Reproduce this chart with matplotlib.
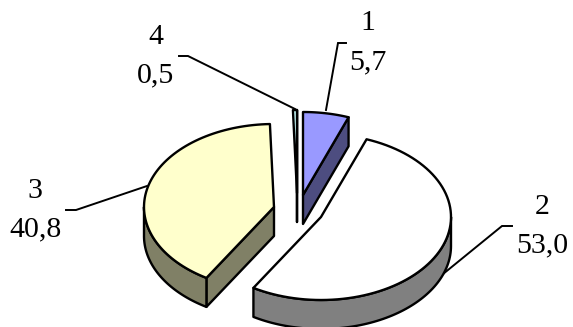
import numpy as np
import matplotlib
matplotlib.use('Agg')
import matplotlib.pyplot as plt
from matplotlib.patches import Polygon

labels = ['1', '2', '3', '4']
values = [5.7, 53.0, 40.8, 0.5]
top_colors = ['#9999FF', '#FFFFFF', '#FFFFCC', '#CCFFFF']
side_colors = ['#4D4D80', '#808080', '#808066', '#668080']
# apex of each exploded slice, in image pixels
apex_x = [303, 321, 274, 297]
apex_y = [195, 217, 207, 193]

# label text centre and leader line, in image pixels
text_x = [368, 542, 35, 156]
text_y = [43, 226, 210, 56]
leader_x = [[326, 338, 346], [432, 502, 512], [147, 76, 66], [295, 188, 179]]
leader_y = [[110, 43, 43], [283, 226, 226], [186, 210, 210], [109, 56, 56]]

rx = 130
ry = 83
depth = 29
lw = 1.7

fig = plt.figure(figsize=(5.73, 3.27), dpi=100)
ax = fig.add_axes([0, 0, 1, 1])
ax.set_xlim(0, 573)
ax.set_ylim(327, 0)
ax.axis('off')


def rim(i, a0, a1):
    t = np.radians(np.linspace(a0, a1, 80))
    return apex_x[i] + rx*np.sin(t), apex_y[i] - ry*np.cos(t)


def shape(xs, ys, color, z):
    ax.add_patch(Polygon(np.column_stack([xs, ys]), closed=True, facecolor=color,
                         edgecolor='black', lw=lw, joinstyle='round', zorder=z))


total = sum(values)
edges = np.concatenate([[0], np.cumsum(values)])/total*360

for i in [3, 0, 2, 1]:
    z = {3: 2, 0: 3, 2: 4, 1: 5}[i]
    a0, a1 = edges[i], edges[i+1]
    x0, y0 = apex_x[i], apex_y[i]
    # wall of the cut edge that faces the viewer
    if i == 2:
        ex, ey = rim(i, a0, a0)
    else:
        ex, ey = rim(i, a1, a1)
    if i != 1:
        shape([x0, ex[0], ex[0], x0], [y0, ey[0], ey[0]+depth, y0+depth], side_colors[i], z)
    # outer wall, lower half of the ellipse only
    b0, b1 = max(a0, 90), min(a1, 270)
    if b1 > b0:
        wx, wy = rim(i, b0, b1)
        shape(np.r_[wx, wx[::-1]], np.r_[wy, wy[::-1]+depth], side_colors[i], z)
    # top face
    tx, ty = rim(i, a0, a1)
    shape(np.r_[x0, tx], np.r_[y0, ty], top_colors[i], z)

for i in range(4):
    ax.plot(leader_x[i], leader_y[i], color='black', lw=1.4, zorder=1 if i == 1 else 6,
            solid_joinstyle='miter')
    ax.text(text_x[i], text_y[i], labels[i] + '\n' + f'{values[i]:.1f}'.replace('.', ','),
            ha='center', va='center', family='Liberation Serif', fontsize=21.5,
            linespacing=1.65, color='black')

fig.savefig('out.png', dpi=100)
